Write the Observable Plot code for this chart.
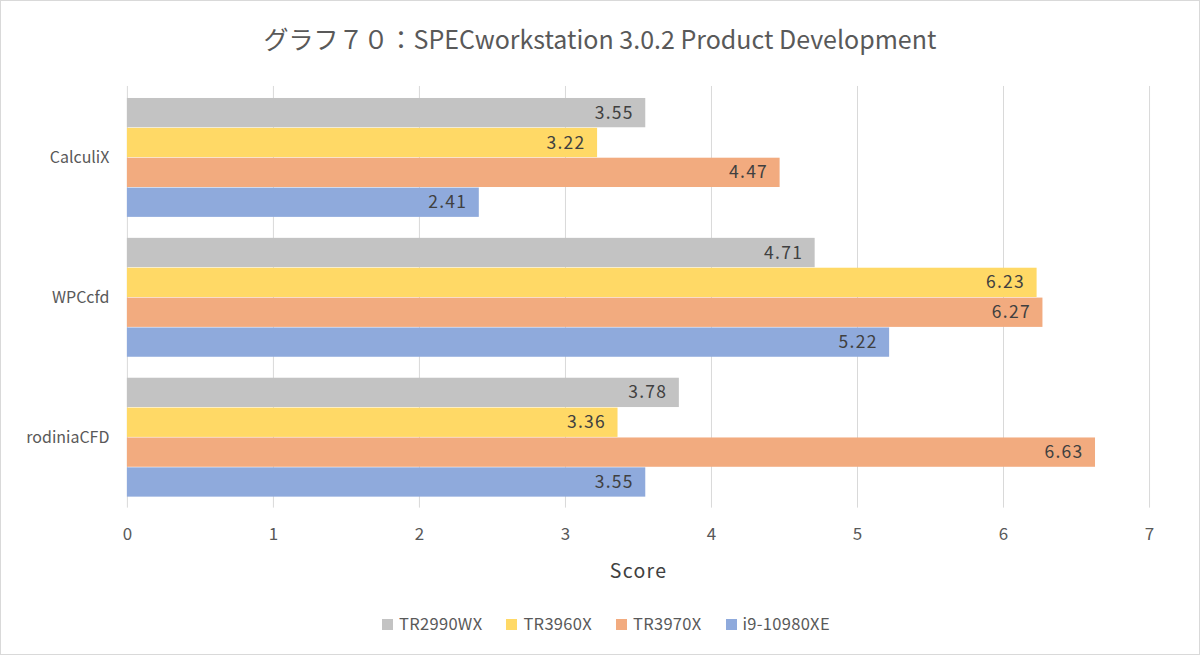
<!DOCTYPE html>
<html>
<head>
<meta charset="utf-8">
<script src="https://cdn.jsdelivr.net/npm/d3@7"></script>
<script src="https://cdn.jsdelivr.net/npm/@observablehq/plot@0.6"></script>
<style>
  html, body { margin: 0; padding: 0; background: #fff; }
  #frame { position: relative; width: 1200px; height: 655px; box-sizing: border-box; border: 1px solid #d9d9d9; overflow: hidden; font-family: "Noto Sans CJK JP", "Noto Sans", sans-serif; }
  #title { position: absolute; left: 0; width: 1198px; top: 20px; text-align: center; font-size: 25px; color: #595959; line-height: 34px; }
  #chart { position: absolute; left: -1px; top: 64px; }
  #chart svg g[aria-label="text"] text { letter-spacing: 1.3px; }
  #chart svg g[aria-label="x-axis tick label"] text { font-size: 17px; }
  #legend { position: absolute; left: 0; width: 1198px; top: 611px; display: flex; justify-content: center; gap: 24px; font-size: 16.5px; color: #595959; line-height: 22px; padding-left: 6px; letter-spacing: 0.3px; }
  .item { display: flex; align-items: center; }
  .sw { width: 11px; height: 11px; margin-right: 6px; margin-top: 2px; }
</style>
</head>
<body>
<div id="frame">
  <div id="title">グラフ７０：SPECworkstation 3.0.2 Product Development</div>
  <div id="chart"></div>
  <div id="legend"></div>
</div>
<script>
const categories = ["CalculiX", "WPCcfd", "rodiniaCFD"];
const series = ["TR2990WX", "TR3960X", "TR3970X", "i9-10980XE"];
const TR2990WX = [3.55, 4.71, 3.78];
const TR3960X = [3.22, 6.23, 3.36];
const TR3970X = [4.47, 6.27, 6.63];
const i9_10980XE = [2.41, 5.22, 3.55];
const xTicks = [0, 1, 2, 3, 4, 5, 6, 7];
const colors = ["#c3c3c3", "#ffd966", "#f2ab7f", "#8faadc"];

const values = [TR2990WX, TR3960X, TR3970X, i9_10980XE];
const data = [];
series.forEach((s, i) => categories.forEach((c, j) => data.push({series: s, category: c, value: values[i][j]})));

const W = 1200, H = 525, mTop = 21, mBottom = 82, mLeft = 127, mRight = 50;
const padInner = 0.15, padOuter = 0.075;
const plotH = H - mTop - mBottom;
const step = plotH / (categories.length - padInner + 2 * padOuter);
const band = step * (1 - padInner);
const bw = band / series.length;

const marks = [
  Plot.gridX(xTicks, {stroke: "#d9d9d9", strokeOpacity: 1, strokeWidth: 1})
];
series.forEach((s, i) => {
  const sub = data.filter(d => d.series === s);
  marks.push(Plot.barX(sub, {
    x: "value", y: "category", fill: colors[i],
    insetTop: i * bw, insetBottom: (series.length - 1 - i) * bw
  }));
  marks.push(Plot.text(sub, {
    x: "value", y: "category", text: d => d.value.toFixed(2),
    textAnchor: "end", dx: -12, dy: (i - (series.length - 1) / 2) * bw,
    fill: "#404040", fontSize: 17.5
  }));
});
marks.push(Plot.text(["Score"], {frameAnchor: "bottom", dy: 64, text: d => d, fontSize: 19.5, fill: "#404040", lineAnchor: "middle"}));

const chart = Plot.plot({
  width: W, height: H,
  marginTop: mTop, marginBottom: mBottom, marginLeft: mLeft, marginRight: mRight,
  style: {fontSize: "16px", fontFamily: "'Noto Sans CJK JP', 'Noto Sans', sans-serif", color: "#595959", background: "transparent"},
  x: {domain: [0, 7], ticks: xTicks, tickSize: 0, tickPadding: 20, label: null, tickFormat: d => String(d)},
  y: {domain: categories, paddingInner: padInner, paddingOuter: padOuter, tickSize: 0, tickPadding: 18, label: null},
  marks
});
document.getElementById("chart").appendChild(chart);

const legend = document.getElementById("legend");
series.forEach((s, i) => {
  const it = document.createElement("div");
  it.className = "item";
  const sw = document.createElement("div");
  sw.className = "sw";
  sw.style.background = colors[i];
  const t = document.createElement("span");
  t.textContent = s;
  it.appendChild(sw); it.appendChild(t);
  legend.appendChild(it);
});
</script>
</body>
</html>
